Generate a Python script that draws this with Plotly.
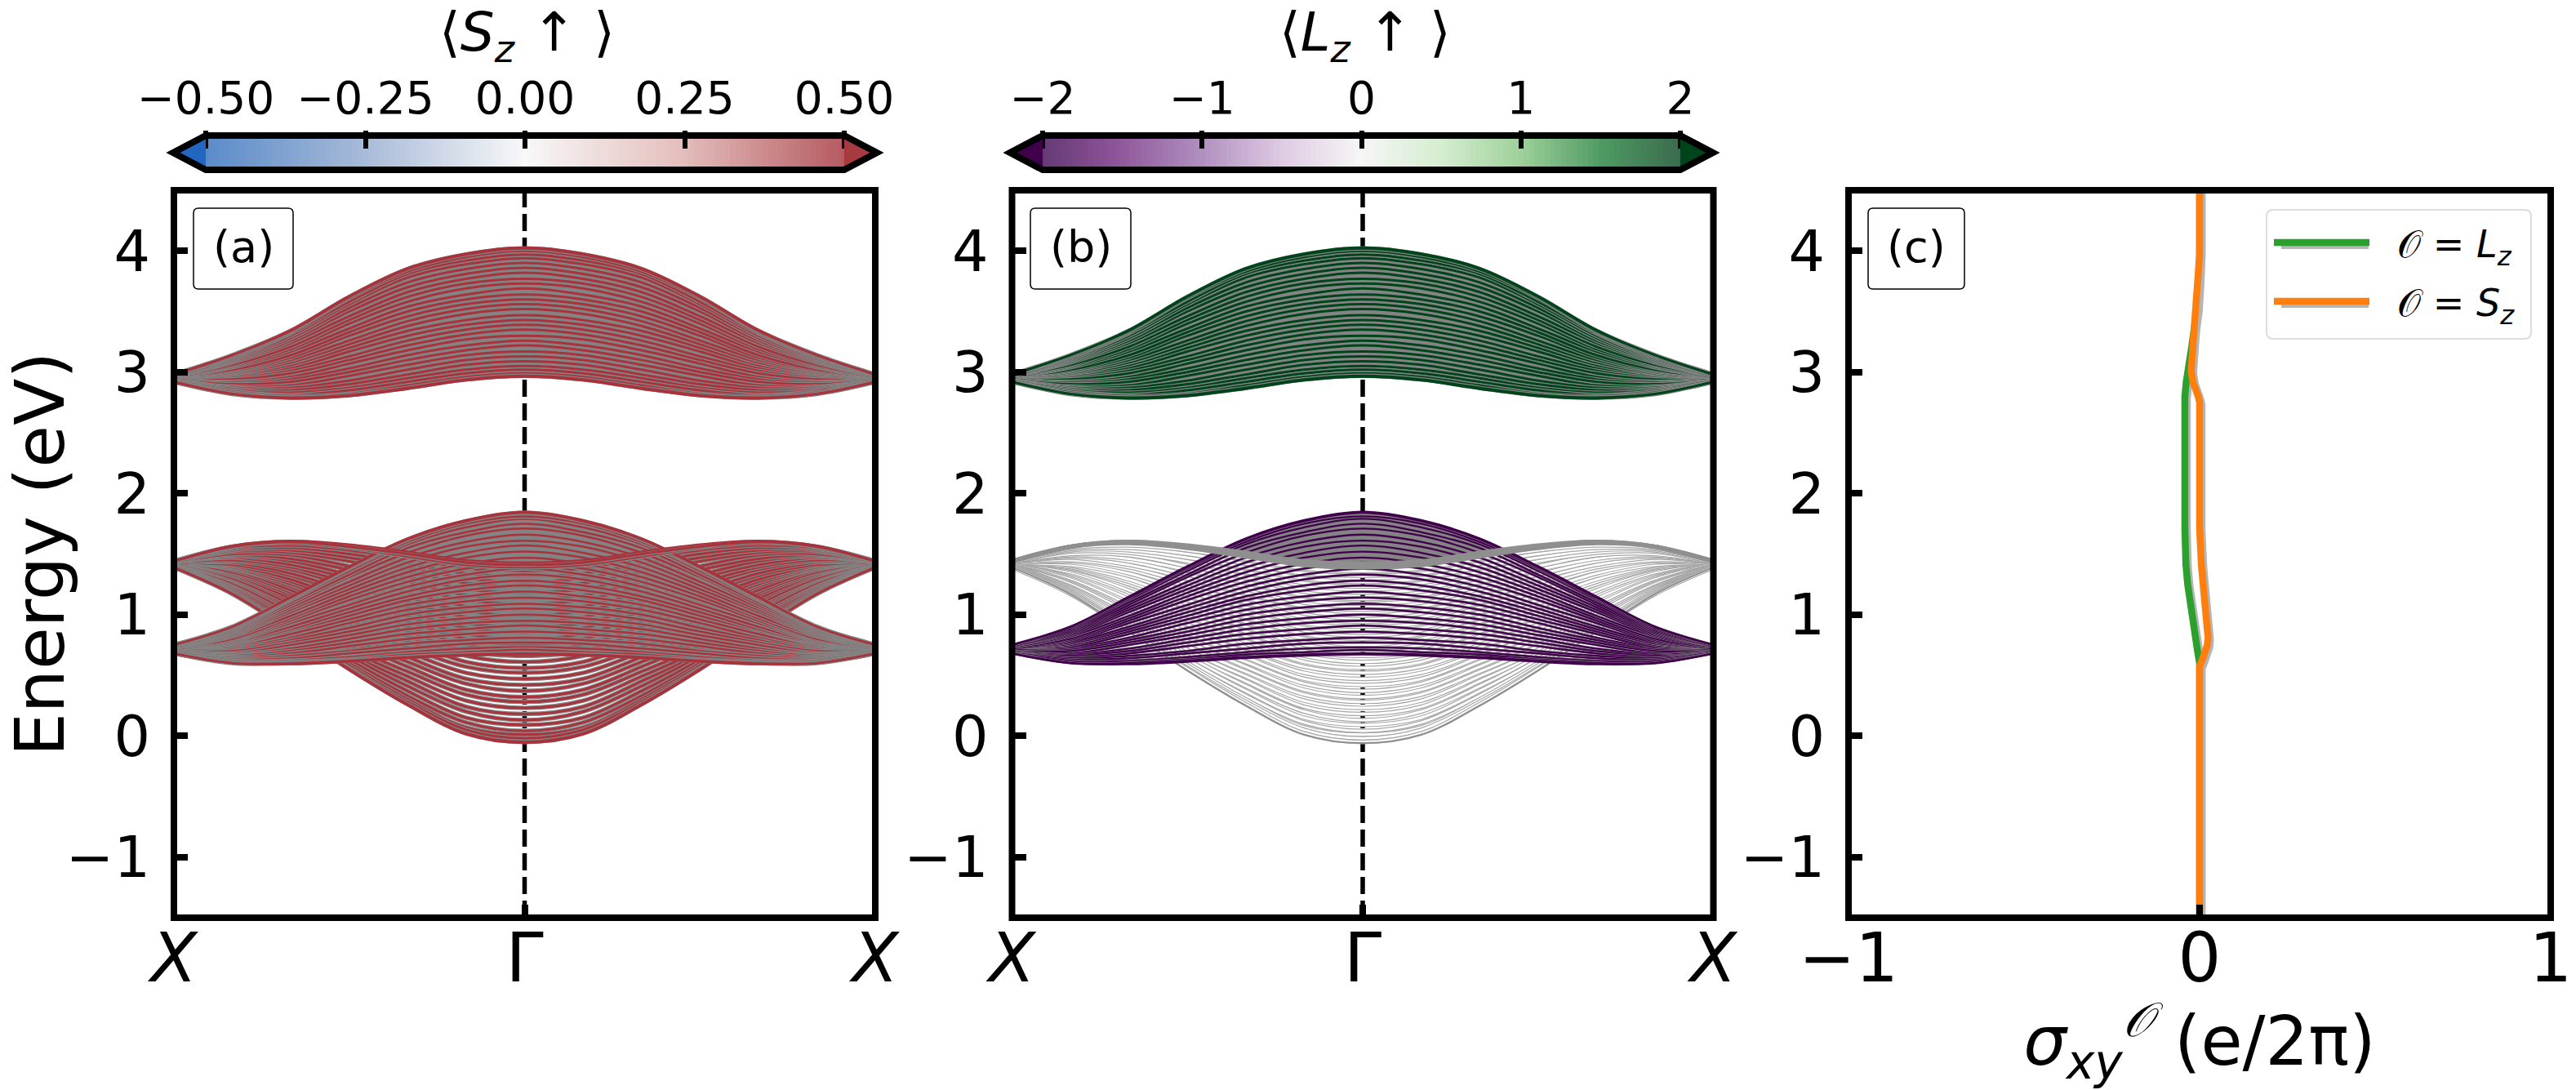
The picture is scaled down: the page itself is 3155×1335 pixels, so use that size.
import numpy as np
import plotly.graph_objects as go

W, H = 3155, 1335
FONT = "DejaVu Sans"

# Momentum samples, Gamma (0) to X (1); the picture is mirror symmetric about Gamma
K_SAMPLES = [0, 0.1667, 0.3333, 0.5, 0.6667, 0.8333, 1]

# Energies (eV) of each curve at K_SAMPLES
UPPER_BAND = [
 [2.96,2.93,2.86,2.80,2.78,2.82,2.92],[2.97,2.94,2.87,2.81,2.79,2.82,2.92],[2.99,2.96,2.89,2.82,2.80,2.83,2.92],
 [3.02,2.99,2.92,2.85,2.81,2.84,2.92],[3.05,3.02,2.95,2.87,2.83,2.85,2.93],[3.09,3.06,2.98,2.90,2.85,2.86,2.93],
 [3.13,3.10,3.02,2.93,2.87,2.87,2.93],[3.17,3.14,3.06,2.97,2.89,2.88,2.93],[3.22,3.18,3.10,3.00,2.92,2.90,2.93],
 [3.26,3.22,3.14,3.03,2.94,2.91,2.94],[3.30,3.27,3.18,3.07,2.96,2.92,2.94],[3.35,3.31,3.22,3.10,2.99,2.94,2.94],
 [3.39,3.35,3.26,3.13,3.01,2.95,2.94],[3.43,3.39,3.30,3.17,3.03,2.96,2.95],[3.47,3.43,3.34,3.20,3.05,2.97,2.95],
 [3.52,3.48,3.38,3.23,3.08,2.99,2.95],[3.56,3.52,3.42,3.26,3.10,3.00,2.95],[3.60,3.56,3.46,3.30,3.12,3.01,2.96],
 [3.64,3.60,3.50,3.33,3.14,3.02,2.96],[3.69,3.64,3.54,3.36,3.17,3.04,2.96],[3.73,3.69,3.58,3.40,3.19,3.05,2.96],
 [3.77,3.73,3.62,3.43,3.21,3.06,2.97],[3.82,3.77,3.66,3.46,3.24,3.08,2.97],[3.86,3.81,3.70,3.50,3.26,3.09,2.97],
 [3.90,3.85,3.74,3.53,3.28,3.10,2.97],[3.94,3.89,3.78,3.56,3.30,3.11,2.97],[3.97,3.92,3.81,3.58,3.32,3.12,2.98],
 [4.00,3.95,3.83,3.61,3.33,3.13,2.98],[4.02,3.97,3.85,3.62,3.34,3.14,2.98],[4.03,3.98,3.86,3.63,3.35,3.14,2.98],
]
DOME_BAND = [
 [0.67,0.66,0.64,0.61,0.59,0.60,0.68],[0.68,0.67,0.65,0.62,0.60,0.60,0.68],[0.71,0.69,0.67,0.63,0.61,0.61,0.68],
 [0.73,0.72,0.69,0.65,0.62,0.62,0.68],[0.77,0.76,0.72,0.68,0.64,0.63,0.69],[0.81,0.79,0.76,0.70,0.66,0.64,0.69],
 [0.86,0.84,0.80,0.74,0.68,0.65,0.69],[0.91,0.88,0.84,0.77,0.70,0.66,0.69],[0.95,0.93,0.88,0.80,0.72,0.67,0.70],
 [1.00,0.97,0.92,0.83,0.75,0.68,0.70],[1.05,1.02,0.96,0.86,0.77,0.70,0.70],[1.09,1.06,1.00,0.89,0.79,0.71,0.71],
 [1.14,1.11,1.04,0.93,0.81,0.72,0.71],[1.19,1.15,1.08,0.96,0.84,0.73,0.71],[1.24,1.20,1.12,0.99,0.86,0.74,0.71],
 [1.28,1.24,1.15,1.02,0.88,0.76,0.72],[1.33,1.29,1.19,1.05,0.90,0.77,0.72],[1.38,1.33,1.23,1.08,0.93,0.78,0.72],
 [1.43,1.38,1.27,1.12,0.95,0.79,0.72],[1.47,1.42,1.31,1.15,0.97,0.80,0.73],[1.52,1.47,1.35,1.18,0.99,0.82,0.73],
 [1.57,1.51,1.39,1.21,1.02,0.83,0.73],[1.61,1.56,1.43,1.24,1.04,0.84,0.74],[1.66,1.60,1.47,1.27,1.06,0.85,0.74],
 [1.71,1.65,1.51,1.31,1.08,0.86,0.74],[1.75,1.68,1.55,1.33,1.10,0.87,0.74],[1.79,1.72,1.58,1.36,1.12,0.88,0.75],
 [1.81,1.75,1.60,1.38,1.13,0.89,0.75],[1.84,1.77,1.62,1.39,1.14,0.90,0.75],[1.85,1.78,1.63,1.40,1.15,0.90,0.75],
]
BOWL_BAND = [
 [-0.06,0.01,0.25,0.54,0.86,1.17,1.39],[-0.05,0.02,0.26,0.55,0.87,1.17,1.39],[-0.02,0.05,0.28,0.56,0.88,1.18,1.39],
 [0.01,0.07,0.30,0.58,0.89,1.19,1.39],[0.04,0.11,0.33,0.60,0.91,1.20,1.39],[0.09,0.15,0.37,0.63,0.94,1.21,1.40],
 [0.13,0.20,0.41,0.66,0.96,1.22,1.40],[0.18,0.24,0.45,0.68,0.98,1.23,1.40],[0.23,0.29,0.49,0.71,1.01,1.25,1.40],
 [0.28,0.34,0.53,0.74,1.03,1.26,1.40],[0.32,0.38,0.57,0.78,1.05,1.27,1.40],[0.37,0.43,0.61,0.81,1.08,1.29,1.40],
 [0.42,0.47,0.65,0.85,1.10,1.30,1.41],[0.47,0.52,0.69,0.88,1.13,1.31,1.41],[0.52,0.57,0.73,0.92,1.15,1.32,1.41],
 [0.56,0.61,0.78,0.95,1.17,1.34,1.41],[0.61,0.66,0.82,0.99,1.20,1.35,1.41],[0.66,0.70,0.86,1.02,1.22,1.36,1.41],
 [0.71,0.75,0.90,1.06,1.25,1.38,1.42],[0.75,0.80,0.94,1.09,1.27,1.39,1.42],[0.80,0.84,0.98,1.12,1.29,1.40,1.42],
 [0.85,0.89,1.02,1.16,1.32,1.41,1.42],[0.90,0.93,1.06,1.19,1.34,1.43,1.42],[0.94,0.98,1.10,1.23,1.37,1.44,1.42],
 [0.99,1.03,1.14,1.26,1.39,1.45,1.43],[1.04,1.07,1.18,1.30,1.41,1.47,1.43],[1.09,1.12,1.23,1.33,1.44,1.48,1.43],
 [1.13,1.16,1.27,1.37,1.46,1.49,1.43],[1.18,1.21,1.31,1.40,1.49,1.50,1.43],[1.23,1.26,1.35,1.44,1.51,1.52,1.43],
 [1.27,1.30,1.39,1.47,1.53,1.53,1.43],[1.32,1.34,1.42,1.50,1.55,1.54,1.44],[1.36,1.38,1.46,1.53,1.57,1.55,1.44],
 [1.39,1.41,1.48,1.55,1.59,1.56,1.44],[1.41,1.43,1.50,1.56,1.60,1.56,1.44],[1.43,1.45,1.52,1.58,1.61,1.57,1.44],
]
# Where the dome's outer curve meets the bowl family's upper curve
DOME_CROSS_K, DOME_CROSS_E = 0.40, 1.54

# Panel (c): conductivity against energy
E_LZ = [-1.5, 0.57, 0.60, 0.70, 0.81, 0.95, 1.11, 1.25, 1.41, 1.55, 1.71, 2.80, 2.92, 3.22, 3.52, 3.75, 3.97, 4.5]
SIGMA_LZ = [0, 0, 0, -0.006, -0.012, -0.020, -0.028, -0.034, -0.039, -0.041, -0.042, -0.042, -0.038, -0.022, -0.008, -0.003, 0, 0]
E_SZ = [-1.5, 0.57, 0.63, 0.69, 0.75, 0.81, 0.95, 1.11, 1.25, 1.41, 1.71, 2.75, 2.80, 2.92, 3.01, 3.22, 3.52, 3.75, 3.97, 4.5]
SIGMA_SZ = [0, 0, 0.008, 0.016, 0.022, 0.024, 0.021, 0.016, 0.010, 0.005, 0, 0, -0.004, -0.019, -0.024, -0.019, -0.012, -0.005, 0, 0]

Y_TICKS = [-1, 0, 1, 2, 3, 4]
K_TICKS = [-1, 0, 1]
K_LABELS = ["<i>X</i>", "Γ", "<i>X</i>"]
SIGMA_TICKS = [-1, 0, 1]
SPIN_TICKS = [-0.5, -0.25, 0, 0.25, 0.5]
ORBITAL_TICKS = [-2, -1, 0, 1, 2]

RED, GREEN, PURPLE = "#a8333c", "#00441b", "#40004b"
GREY = "#848484"
SPIN_RAMP = [(0, "#5a8bc9"), (0.25, "#a8bbd8"), (0.5, "#f8f8f8"), (0.75, "#e3bdbb"), (1, "#b55a60")]
ORBITAL_RAMP = [(0, "#643a74"), (0.1, "#8a4f95"), (0.25, "#b190c0"), (0.375, "#dfcbe3"), (0.5, "#f6f6f6"),
                (0.625, "#d5edd0"), (0.75, "#9ed09a"), (0.875, "#4f9a63"), (1, "#3a6b4e")]

def px(x): return x / W
def py(y): return 1 - y / H

fig = go.Figure()
PANELS = [("x", "y", 213, 1072), ("x2", "y2", 1239.5, 2098.5), ("x3", "y3", 2264, 3124)]
TOP, BOTTOM = 233, 1124

kx = [-k for k in K_SAMPLES[::-1]] + K_SAMPLES[1:]

def mirrored(row):
    return row[::-1] + row[1:]

def draw_curve(xa, ya, row, core, grey=GREY, outer=False, outer_core=None, gw=5.4, cw=3.0):
    e = mirrored(row)
    common = dict(x=kx, y=e, xaxis=xa, yaxis=ya, mode="lines", hoverinfo="skip", showlegend=False)
    if outer:
        fig.add_trace(go.Scatter(line=dict(color=outer_core or core, width=2.2, shape="spline"), **common))
    else:
        fig.add_trace(go.Scatter(line=dict(color=grey, width=gw, shape="spline"), **common))
        fig.add_trace(go.Scatter(line=dict(color=core, width=cw, shape="spline"), **common))

def grey_fill(xa, ya, lower, upper):
    fig.add_trace(go.Scatter(x=kx + kx[::-1], y=mirrored(upper) + mirrored(lower)[::-1], xaxis=xa, yaxis=ya,
                             mode="lines", fill="toself", fillcolor=GREY, line=dict(width=0, shape="spline"),
                             hoverinfo="skip", showlegend=False))

def inner_first(rows):
    n = len(rows)
    return sorted(range(n), key=lambda i: abs(i - (n - 1) / 2))

def draw_panel(xa, ya, upper_core, dome_core, bowl_core, bowl_grey, bowl_outer, dome_gw, dome_cw, whole_dome_fill, top_grey):
    grey_fill(xa, ya, UPPER_BAND[0], UPPER_BAND[-1])
    for i in inner_first(UPPER_BAND):
        draw_curve(xa, ya, UPPER_BAND[i], upper_core, outer=i in (0, len(UPPER_BAND) - 1))
    n_bowl, n_dome = len(BOWL_BAND), len(DOME_BAND)
    upper_rows = [i for i in inner_first(BOWL_BAND) if i >= n_bowl - 3]
    if whole_dome_fill:
        grey_fill(xa, ya, DOME_BAND[0], DOME_BAND[-1])
    else:
        cap_k = [-DOME_CROSS_K] + [-k for k in K_SAMPLES[2::-1]] + K_SAMPLES[1:3] + [DOME_CROSS_K]
        top = DOME_BAND[-1][:3]
        low = BOWL_BAND[-1][:3]
        cap_top = [DOME_CROSS_E] + top[::-1] + top[1:] + [DOME_CROSS_E]
        cap_low = low[::-1] + low[1:]
        fig.add_trace(go.Scatter(x=cap_k + cap_k[-2:0:-1], y=cap_top + cap_low[::-1], xaxis=xa, yaxis=ya,
                                 mode="lines", fill="toself", fillcolor=GREY, line=dict(width=0),
                                 hoverinfo="skip", showlegend=False))
    for i in inner_first(BOWL_BAND):
        if i not in upper_rows:
            draw_curve(xa, ya, BOWL_BAND[i], bowl_core, grey=bowl_grey, outer=i == 0, outer_core=bowl_outer)
    for i in inner_first(DOME_BAND):
        draw_curve(xa, ya, DOME_BAND[i], dome_core, outer=i in (0, n_dome - 1), gw=dome_gw, cw=dome_cw)
    for i in upper_rows:
        draw_curve(xa, ya, BOWL_BAND[i], bowl_core if bowl_core != "#ffffff" else top_grey, grey=top_grey,
                   outer=i == n_bowl - 1, outer_core=bowl_outer)

draw_panel("x", "y", RED, RED, RED, GREY, RED, 5.4, 2.5, True, GREY)
draw_panel("x2", "y2", GREEN, PURPLE, "#ffffff", "#a6a6a6", "#8f8f8f", 3.2, 2.3, False, "#8f8f8f")

# Panel (c)
SHADOW_DX, SHADOW_DY = 0.007, 0.02
fig.add_trace(go.Scatter(x=[v + SHADOW_DX for v in SIGMA_LZ], y=[v - SHADOW_DY for v in E_LZ], xaxis="x3", yaxis="y3",
                         mode="lines", line=dict(color="#b5b5b5", width=8.5), hoverinfo="skip", showlegend=False))
fig.add_trace(go.Scatter(x=SIGMA_LZ, y=E_LZ, xaxis="x3", yaxis="y3", mode="lines", legend="legend",
                         line=dict(color="#2ca02c", width=8.5), name="&nbsp;&nbsp;𝒪 = <i>L<sub>z</sub></i>"))
fig.add_trace(go.Scatter(x=[v + SHADOW_DX for v in SIGMA_SZ], y=[v - SHADOW_DY for v in E_SZ], xaxis="x3", yaxis="y3",
                         mode="lines", line=dict(color="#b5b5b5", width=8.5), hoverinfo="skip", showlegend=False))
fig.add_trace(go.Scatter(x=SIGMA_SZ, y=E_SZ, xaxis="x3", yaxis="y3", mode="lines", legend="legend2",
                         line=dict(color="#ff7f0e", width=8.5), name="&nbsp;&nbsp;𝒪 = <i>S<sub>z</sub></i>"))

# Colour bars, drawn as heatmaps on their own axes
CB = [("x4", "y4", SPIN_TICKS, SPIN_RAMP, 252, 1034, "#2166c0", "#a53a40", ".2f"),
      ("x5", "y5", ORBITAL_TICKS, ORBITAL_RAMP, 1277, 2058, "#40004b", "#00441b", "d")]
CB_TOP, CB_BOTTOM = 166, 208
CB_PAD = 6
layout_axes = {}
shapes = []
for xa, ya, ticks, ramp, x0, x1, c_lo, c_hi, fmt in CB:
    lo, hi = ticks[0], ticks[-1]
    per_px = (hi - lo) / (x1 - x0)
    tip = 40 * per_px
    ramp_x = np.linspace(lo, hi, 121)
    fig.add_trace(go.Heatmap(x=ramp_x, y=[0, 1], z=[ramp_x], xaxis=xa, yaxis=ya, zmin=lo, zmax=hi,
                             colorscale=[[a, b] for a, b in ramp], showscale=False, hoverinfo="skip"))
    shapes.append(dict(type="path", xref=xa, yref=ya, line=dict(width=0), fillcolor=c_lo,
                       path=f"M {lo} 0 L {lo-tip} 0.5 L {lo} 1 Z", layer="above"))
    shapes.append(dict(type="path", xref=xa, yref=ya, line=dict(width=0), fillcolor=c_hi,
                       path=f"M {hi} 0 L {hi+tip} 0.5 L {hi} 1 Z", layer="above"))
    shapes.append(dict(type="path", xref=xa, yref=ya, line=dict(color="black", width=8),
                       path=f"M {lo} 0 L {hi} 0 L {hi+tip} 0.5 L {hi} 1 L {lo} 1 L {lo-tip} 0.5 Z", layer="above"))
    pad = 50
    n = xa[1:]
    u = CB_PAD / (CB_BOTTOM - CB_TOP)
    layout_axes[f"xaxis{n}"] = dict(domain=[px(x0 - pad), px(x1 + pad)], range=[lo - pad * per_px, hi + pad * per_px],
                                    anchor=ya, side="top", tickvals=ticks, tickformat=fmt, ticks="inside", automargin=False,
                                    ticklen=22, tickwidth=6, tickcolor="black", showline=False, showgrid=False, zeroline=False,
                                    tickfont=dict(family=FONT, size=55, color="black"), ticklabelstandoff=9)
    layout_axes[f"yaxis{n}"] = dict(domain=[py(CB_BOTTOM + CB_PAD), py(CB_TOP - CB_PAD)], range=[-u, 1 + u], anchor=xa,
                                    visible=False, automargin=False)

# Main axes
for idx, (xa, ya, x0, x1) in enumerate(PANELS):
    suffix = "" if idx == 0 else str(idx + 1)
    xt = dict(tickvals=SIGMA_TICKS) if idx == 2 else dict(tickvals=K_TICKS, ticktext=K_LABELS)
    layout_axes[f"xaxis{suffix}"] = dict(domain=[px(x0), px(x1)], range=[-1, 1], anchor=ya, ticks="inside", ticklen=16,
                                         tickwidth=8, tickcolor="black", showline=False, showgrid=False, zeroline=False, automargin=False,
                                         tickfont=dict(family=FONT, size=83, color="black"), ticklabelstandoff=-6, **xt)
    layout_axes[f"yaxis{suffix}"] = dict(domain=[py(BOTTOM), py(TOP)], range=[-1.5, 4.5], anchor=xa, ticks="inside", ticklen=17,
                                         tickvals=Y_TICKS, tickwidth=8, tickcolor="black", showline=False, showgrid=False, zeroline=False,
                                         automargin=False, tickfont=dict(family=FONT, size=70, color="black"), ticklabelstandoff=28)
    shapes.append(dict(type="rect", xref="paper", yref="paper", x0=px(x0), x1=px(x1), y0=py(BOTTOM), y1=py(TOP),
                       line=dict(color="black", width=8), layer="above"))
    if idx < 2:
        shapes.insert(0, dict(type="line", xref=xa, yref=f"{ya} domain", x0=0, x1=0, y0=0, y1=1, layer="below",
                              line=dict(color="black", width=5.5, dash="21px,8px")))

layout_axes["xaxis3"]["title"] = dict(text="<i>σ<sub>xy</sub></i><sup><i>𝒪</i></sup> (e/2π)", standoff=18,
                                      font=dict(family=FONT, size=83, color="black"))
layout_axes["yaxis"]["title"] = dict(text="Energy (eV)", standoff=14, font=dict(family=FONT, size=84, color="black"))

def rounded(x0, y0, x1, y1, r):
    X = lambda v: f"{px(v):.5f}"
    Y = lambda v: f"{py(v):.5f}"
    return (f"M {X(x0+r)} {Y(y0)} L {X(x1-r)} {Y(y0)} Q {X(x1)} {Y(y0)} {X(x1)} {Y(y0+r)} "
            f"L {X(x1)} {Y(y1-r)} Q {X(x1)} {Y(y1)} {X(x1-r)} {Y(y1)} L {X(x0+r)} {Y(y1)} "
            f"Q {X(x0)} {Y(y1)} {X(x0)} {Y(y1-r)} L {X(x0)} {Y(y0+r)} Q {X(x0)} {Y(y0)} {X(x0+r)} {Y(y0)} Z")

annotations = []
for text, x0, x1 in [("(a)", 237, 359), ("(b)", 1262, 1385), ("(c)", 2288, 2406)]:
    shapes.append(dict(type="path", xref="paper", yref="paper", path=rounded(x0, 255, x1, 354, 6),
                       line=dict(color="black", width=1.5), fillcolor="white", layer="above"))
    annotations.append(dict(text=text, xref="paper", yref="paper", x=px((x0 + x1) / 2), y=py(303), xanchor="center", yanchor="middle",
                            showarrow=False, font=dict(family=FONT, size=54, color="black")))

for text, x in [("⟨<i>S<sub>z</sub></i> ↑ ⟩", 645), ("⟨<i>L<sub>z</sub></i> ↑ ⟩", 1672)]:
    annotations.append(dict(text=text, xref="paper", yref="paper", x=px(x), y=py(44), xanchor="center", yanchor="middle",
                            showarrow=False, font=dict(family=FONT, size=66, color="black")))

# Legend frame and line shadows
shapes.append(dict(type="path", xref="paper", yref="paper", path=rounded(2776, 257, 3100, 415, 8),
                   line=dict(color="#dcdcdc", width=2), fillcolor="white", layer="above"))
for y in (301, 373):
    shapes.append(dict(type="line", xref="paper", yref="paper", x0=px(2794), x1=px(2901), y0=py(y), y1=py(y),
                       line=dict(color="#b5b5b5", width=8), layer="above"))

LEG = dict(xanchor="left", yanchor="middle", bgcolor="rgba(0,0,0,0)", borderwidth=0, itemwidth=117,
           font=dict(family=FONT, size=46, color="black"))
fig.update_layout(
    width=W, height=H, margin=dict(l=0, r=0, t=0, b=0), autosize=False,
    paper_bgcolor="white", plot_bgcolor="white", font=dict(family=FONT, color="black"),
    shapes=shapes, annotations=annotations,
    legend=dict(x=px(2780), y=py(297), **LEG),
    legend2=dict(x=px(2780), y=py(369), **LEG),
    **layout_axes,
)
fig.write_html("out.html", config={"displayModeBar": False}, post_script="document.body.style.margin='0';")
